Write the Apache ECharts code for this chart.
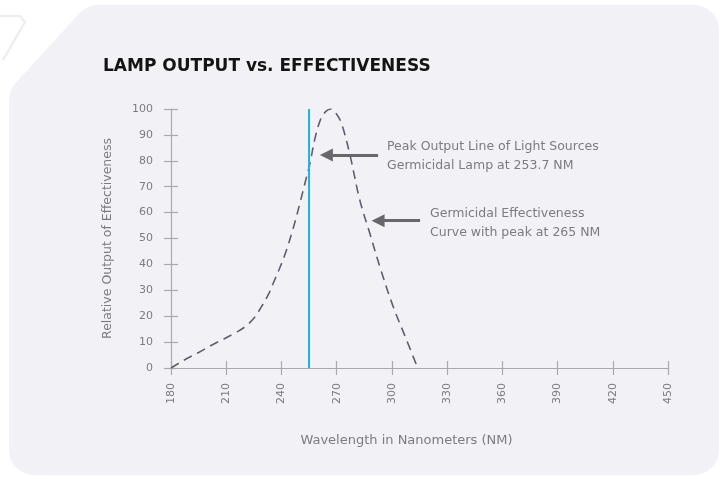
<!DOCTYPE html>
<html><head><meta charset="utf-8">
<script src="https://cdn.jsdelivr.net/npm/echarts@6/dist/echarts.min.js"></script>
<style>html,body{margin:0;padding:0;background:#fff}#c{width:724px;height:479px}</style>
</head><body><div id="c"></div>
<script>
// ---- data ----
const curveWavelength = [180,187,195,202,209,215,220,225,229,233,236,239,242,246,250,253,255.5,258,261,264,267,270,272.6,277,282.5,288,293.5,300.7,308,314];
const curveEffect     = [0,3,6,8.8,11.3,13.6,15.8,19.2,23.5,28.5,33.5,38.5,44,53,63.5,72,79,88,95.5,99,100,98,94.5,83,65,52,39,23.7,10.8,0];
const lampWavelength = [255,255];
const lampOutput = [0,100];
const xRange = [180,450]; const xStep = 30;
const yRange = [0,100]; const yStep = 10;
const arrowLamp = {tail:292.5, tip:264.4, level:82.2};
const arrowCurve = {tail:315.3, tip:292.5, level:56.9};
const titleText = 'LAMP OUTPUT vs. EFFECTIVENESS';
const xName = 'Wavelength in Nanometers (NM)';
const yName = 'Relative Output of Effectiveness';
const note1 = ['Peak Output Line of Light Sources','Germicidal Lamp at 253.7 NM'];
const note2 = ['Germicidal Effectiveness','Curve with peak at 265 NM'];

// ---- styling helpers ----
const FONT = "'DejaVu Sans', sans-serif";
const GREY = '#7b7b80';
function arc(cx,cy,r,a0,a1,n){const p=[];for(let i=0;i<=n;i++){const a=(a0+(a1-a0)*i/n)*Math.PI/180;p.push([cx+r*Math.cos(a),cy+r*Math.sin(a)]);}return p;}
const card = [].concat(
  arc(694,30,25,-90,0,10),
  arc(694,450,25,0,90,10),
  arc(34,450,25,90,180,10),
  arc(34,100,25,180,218,5),
  arc(98,30,25,218,270,6)
);

const curve = curveWavelength.map((x,i)=>[x,curveEffect[i]]);
const lamp = lampWavelength.map((x,i)=>[x,lampOutput[i]]);

const chart = echarts.init(document.getElementById('c'));
const axisLineStyle = {color:'#a9a9ae', width:1.2};
chart.setOption({
  animation:false,
  backgroundColor:'#ffffff',
  graphic:[
    {type:'polygon', z:-10, shape:{points:card}, style:{fill:'#f2f2f6'}},
    {type:'polyline', z:-9, shape:{points:[[0,16],[20,16],[25,22],[3,60]]}, style:{stroke:'#ececf0', lineWidth:2, fill:null}},
    {type:'text', left:103, top:58, style:{text:titleText, font:"bold 17px "+FONT, fill:'#141414'}},
    {type:'text', left:387, top:137, style:{text:note1.join('\n'), font:"12.5px "+FONT, fill:GREY, lineHeight:19}},
    {type:'text', left:430, top:204, style:{text:note2.join('\n'), font:"12.5px "+FONT, fill:GREY, lineHeight:19}}
  ],
  grid:{left:171, right:56, top:109, bottom:111, containLabel:false},
  xAxis:[
    {type:'value', min:xRange[0], max:xRange[1], interval:xStep, position:'bottom',
     name:xName, nameLocation:'middle', nameGap:66,
     nameTextStyle:{color:GREY, fontSize:13, fontFamily:FONT, padding:[0,26,0,0]},
     axisLine:{show:true, onZero:false, lineStyle:axisLineStyle},
     axisTick:{show:true, length:7, lineStyle:axisLineStyle},
     axisLabel:{rotate:90, margin:15, color:GREY, fontSize:11, fontFamily:FONT},
     splitLine:{show:false}},
    {type:'value', min:xRange[0], max:xRange[1], interval:xStep, position:'bottom',
     axisLine:{show:false, onZero:false},
     axisTick:{show:true, inside:true, length:7, lineStyle:axisLineStyle},
     axisLabel:{show:false}, splitLine:{show:false}}
  ],
  yAxis:[
    {type:'value', min:yRange[0], max:yRange[1], interval:yStep, position:'left',
     name:yName, nameLocation:'middle', nameGap:57,
     nameTextStyle:{color:GREY, fontSize:12.5, fontFamily:FONT},
     axisLine:{show:true, onZero:false, lineStyle:axisLineStyle},
     axisTick:{show:true, length:7, lineStyle:axisLineStyle},
     axisLabel:{margin:18, color:GREY, fontSize:11, fontFamily:FONT},
     splitLine:{show:false}},
    {type:'value', min:yRange[0], max:yRange[1], interval:yStep, position:'left',
     axisLine:{show:false, onZero:false},
     axisTick:{show:true, inside:true, length:7, lineStyle:axisLineStyle},
     axisLabel:{show:false}, splitLine:{show:false}}
  ],
  series:[
    {type:'line', data:curve, smooth:0.35, showSymbol:false, symbol:'none',
     lineStyle:{color:'#655b70', width:1.6, type:[9,6]}, z:3},
    {type:'line', data:lamp, showSymbol:false, symbol:'none',
     lineStyle:{color:'#1fb3dc', width:2}, z:4,
     markLine:{silent:true, symbol:['none','triangle'], symbolSize:13,
       label:{show:false},
       lineStyle:{color:'#67676c', width:3, type:'solid'},
       data:[
         [{coord:[arrowLamp.tail, arrowLamp.level]},{coord:[arrowLamp.tip, arrowLamp.level]}],
         [{coord:[arrowCurve.tail, arrowCurve.level]},{coord:[arrowCurve.tip, arrowCurve.level]}]
       ]}}
  ]
});
</script></body></html>
